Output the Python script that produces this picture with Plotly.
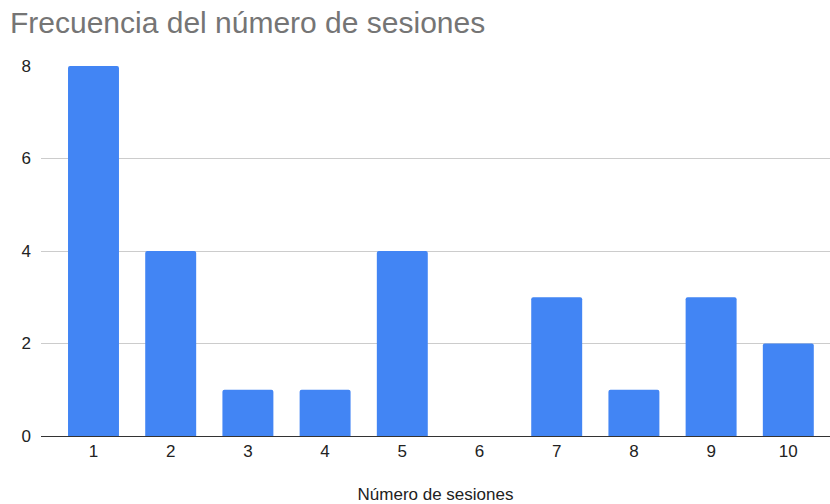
import plotly.graph_objects as go

# Session counts and how often each occurred
sesiones = [1, 2, 3, 4, 5, 6, 7, 8, 9, 10]
frecuencia = [8, 4, 1, 1, 4, 0, 3, 1, 3, 2]
tick_labels = [str(s) for s in sesiones]

FONT = "Arial, 'Liberation Sans', sans-serif"

fig = go.Figure(
    go.Bar(
        x=sesiones,
        y=frecuencia,
        marker=dict(color="#4285F4", line=dict(width=0)),
        width=0.66,
        hoverinfo="x+y",
    )
)

fig.update_layout(
    width=830,
    height=504,
    paper_bgcolor="white",
    plot_bgcolor="white",
    margin=dict(l=41, r=0, t=66, b=68),
    barcornerradius=2,
    font=dict(family=FONT, color="#222222", size=17),
    title=dict(
        text="Frecuencia del número de sesiones",
        x=0.012,
        xanchor="left",
        y=0.955,
        yanchor="middle",
        font=dict(size=30, color="#757575", family=FONT),
    ),
    showlegend=False,
)

fig.update_xaxes(
    range=[0.32, 10.54],
    tickmode="array",
    tickvals=sesiones,
    ticktext=tick_labels,
    showgrid=False,
    showline=False,
    zeroline=False,
    ticks="",
    automargin=False,
    ticklabelstandoff=3,
    tickfont=dict(size=17, color="#222222"),
    title=dict(text="Número de sesiones", font=dict(size=17, color="#222222"), standoff=33),
)

fig.update_yaxes(
    range=[0, 8],
    tickvals=[0, 2, 4, 6, 8],
    showgrid=True,
    gridcolor="#cccccc",
    gridwidth=1,
    zeroline=True,
    zerolinecolor="#333333",
    zerolinewidth=1.3,
    ticks="",
    ticklabelstandoff=9,
    tickfont=dict(size=17, color="#222222"),
)

fig.write_html("out.html")
